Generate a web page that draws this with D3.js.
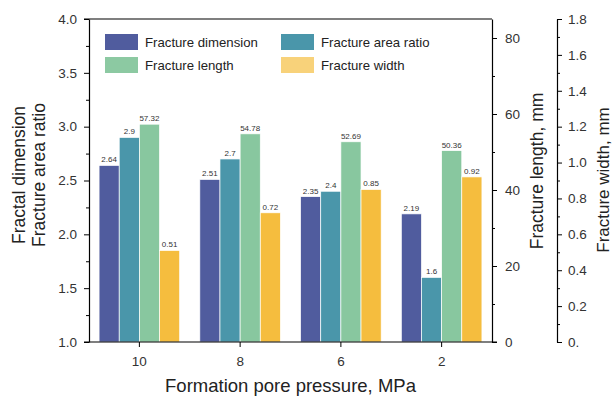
<!DOCTYPE html>
<html><head><meta charset="utf-8">
<script src="https://cdn.jsdelivr.net/npm/d3@7"></script>
<style>body{margin:0;background:#fff;} svg{display:block;font-family:"Liberation Sans",Arial,sans-serif;}</style>
</head><body>
<svg id="chart" width="612" height="397"></svg>
<script>
const categories = ["10", "8", "6", "2"];
const seriesNames = ["Fracture dimension", "Fracture area ratio", "Fracture length", "Fracture width"];
const fractalDimension = [2.64, 2.51, 2.35, 2.19];
const areaRatio = [2.9, 2.7, 2.4, 1.6];
const fractureLength = [57.32, 54.78, 52.69, 50.36];
const fractureWidth = [0.51, 0.72, 0.85, 0.92];
const leftTicks = [1.0, 1.5, 2.0, 2.5, 3.0, 3.5, 4.0];
const lengthTicks = [0, 20, 40, 60, 80];
const widthTicks = [0, 0.2, 0.4, 0.6, 0.8, 1.0, 1.2, 1.4, 1.6, 1.8];

const colors = ["#505c9e", "#4a96aa", "#88c79f", "#f5bd3e"];
const legendColors = ["#505c9e", "#4a96aa", "#8cc9a2", "#f8d27a"];
const textCol = "#333";

const svg = d3.select("#chart");
const X0 = 89, X1 = 492, Y0 = 19, Y1 = 342;

const x = d3.scaleBand().domain(categories).range([X0, X1]).paddingInner(0).paddingOuter(0);
const xs = d3.scaleBand().domain(d3.range(4)).range([0, x.bandwidth()]).paddingInner(0).paddingOuter(0.5);
const yL = d3.scaleLinear().domain([1, 4]).range([Y1, Y0]);
const yLen = d3.scaleLinear().domain([0, 85]).range([Y1, Y0]);
const yW = d3.scaleLinear().domain([0, 1.8]).range([Y1, Y0]);

const series = [
  {vals: fractalDimension, scale: yL},
  {vals: areaRatio, scale: yL},
  {vals: fractureLength, scale: yLen},
  {vals: fractureWidth, scale: yW}
];

// bars
series.forEach((s, si) => {
  const g = svg.append("g");
  g.selectAll("rect").data(s.vals).enter().append("rect")
    .attr("x", (d, i) => x(categories[i]) + xs(si))
    .attr("width", xs.bandwidth())
    .attr("y", d => s.scale(d))
    .attr("height", d => s.scale.range()[0] - s.scale(d))
    .attr("fill", colors[si])
    .attr("stroke", "#fff").attr("stroke-width", 0.7);
  g.selectAll("text").data(s.vals).enter().append("text")
    .attr("x", (d, i) => x(categories[i]) + xs(si) + xs.bandwidth() / 2)
    .attr("y", d => s.scale(d) - 3)
    .attr("text-anchor", "middle")
    .attr("font-size", 8).attr("fill", textCol)
    .text(d => String(d));
});

function styleAxis(g) {
  g.selectAll(".domain").attr("stroke", "#000").attr("stroke-width", 1.2);
  g.selectAll(".tick line").attr("stroke", "#000").attr("stroke-width", 1);
  g.selectAll(".tick text").attr("fill", textCol).attr("font-size", 13.5);
}

// left axis
const gl = svg.append("g").attr("transform", `translate(${X0},0)`)
  .call(d3.axisLeft(yL).tickValues(leftTicks).tickFormat(d3.format(".1f")).tickSize(5).tickSizeOuter(0).tickPadding(7));
styleAxis(gl);
svg.append("g").attr("transform", `translate(${X0},0)`)
  .call(d3.axisLeft(yL).tickValues(d3.range(1.25, 4, 0.5)).tickFormat("").tickSize(3).tickSizeOuter(0))
  .call(g => g.select(".domain").remove())
  .selectAll("line").attr("stroke", "#000");

// length axis
const gr = svg.append("g").attr("transform", `translate(${X1},0)`)
  .call(d3.axisRight(yLen).tickValues(lengthTicks).tickSize(5).tickSizeOuter(0).tickPadding(8));
styleAxis(gr);
svg.append("g").attr("transform", `translate(${X1},0)`)
  .call(d3.axisRight(yLen).tickValues([10, 30, 50, 70]).tickFormat("").tickSize(3).tickSizeOuter(0))
  .call(g => g.select(".domain").remove())
  .selectAll("line").attr("stroke", "#000");

// width axis
const XW = 557;
const gw = svg.append("g").attr("transform", `translate(${XW},0)`)
  .call(d3.axisRight(yW).tickValues(widthTicks).tickFormat(d => d === 0 ? "0." : d3.format(".1f")(d)).tickSize(5).tickSizeOuter(0).tickPadding(6));
styleAxis(gw);
svg.append("g").attr("transform", `translate(${XW},0)`)
  .call(d3.axisRight(yW).tickValues(d3.range(0.1, 1.8, 0.2)).tickFormat("").tickSize(3).tickSizeOuter(0))
  .call(g => g.select(".domain").remove())
  .selectAll("line").attr("stroke", "#000");

// x axis
const gx = svg.append("g").attr("transform", `translate(0,${Y1})`)
  .call(d3.axisBottom(x).tickSize(5).tickSizeOuter(0).tickPadding(9));
styleAxis(gx);
gx.select(".domain").remove();
// frame lines
svg.append("line").attr("x1", X0 - 5).attr("x2", X1 + 5).attr("y1", Y1).attr("y2", Y1).attr("stroke", "#000").attr("stroke-width", 1.2);
svg.append("line").attr("x1", X0 - 5).attr("x2", X1).attr("y1", Y0).attr("y2", Y0).attr("stroke", "#000").attr("stroke-width", 1.2);

// titles
svg.append("text").attr("x", (X0 + X1) / 2).attr("y", 392).attr("text-anchor", "middle")
  .attr("font-size", 18.5).attr("fill", "#222").text("Formation pore pressure, MPa");
svg.append("text").attr("transform", `translate(25,175) rotate(-90)`).attr("text-anchor", "middle")
  .attr("font-size", 17.5).attr("fill", "#222").text("Fractal dimension");
svg.append("text").attr("transform", `translate(45,175) rotate(-90)`).attr("text-anchor", "middle")
  .attr("font-size", 17.5).attr("fill", "#222").text("Fracture area ratio");
svg.append("text").attr("transform", `translate(543,171) rotate(-90)`).attr("text-anchor", "middle")
  .attr("font-size", 17.5).attr("fill", "#222").text("Fracture length, mm");
svg.append("text").attr("transform", `translate(609,180) rotate(-90)`).attr("text-anchor", "middle")
  .attr("font-size", 17).attr("fill", "#222").text("Fracture width, mm");

// legend
const legPos = [[105, 34], [281, 34], [105, 57], [281, 57]];
seriesNames.forEach((n, i) => {
  const [lx, ly] = legPos[i];
  svg.append("rect").attr("x", lx).attr("y", ly).attr("width", 33).attr("height", 16).attr("fill", legendColors[i]);
  svg.append("text").attr("x", lx + 40).attr("y", ly + 12.5).attr("font-size", 13.2).attr("fill", "#222").text(n);
});
</script>
</body></html>
